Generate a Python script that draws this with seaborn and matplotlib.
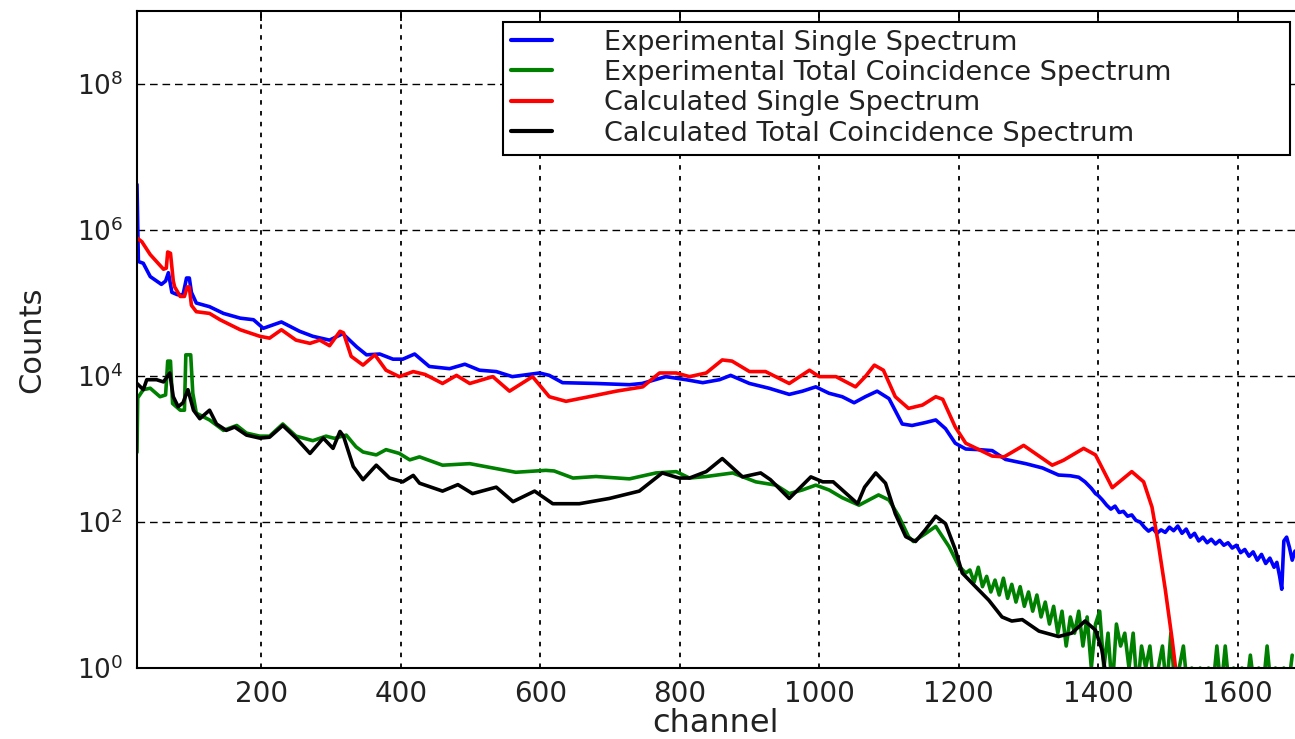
import matplotlib
matplotlib.use("Agg")
import numpy as np
import pandas as pd
import matplotlib.pyplot as plt
import seaborn as sns
from matplotlib.ticker import FixedLocator, LogFormatterMathtext, NullLocator

# ---------------- data ----------------
exp_single_ch = [22, 24, 31, 41, 57, 63, 67, 72, 80, 88, 93, 97, 100, 107, 126, 146, 170, 189,
                 203, 229, 255, 274, 298, 317, 337, 351, 370, 389, 403, 420, 441, 470, 492, 513,
                 537, 560, 599, 613, 632, 680, 728, 746, 780, 809, 833, 857, 873, 900, 928, 957,
                 976, 995, 1014, 1033, 1050, 1066, 1083, 1100, 1119, 1133, 1152, 1167, 1181,
                 1195, 1210, 1229, 1248, 1267, 1296, 1320, 1343, 1360, 1372, 1381, 1390, 1396,
                 1400, 1406, 1412, 1418, 1424, 1430, 1436, 1442, 1448, 1454, 1460, 1466, 1472,
                 1478, 1484, 1490, 1496, 1502, 1508, 1514, 1520, 1526, 1532, 1538, 1544, 1550,
                 1556, 1562, 1568, 1574, 1580, 1586, 1592, 1598, 1604, 1610, 1616, 1622, 1628,
                 1634, 1640, 1646, 1652, 1656, 1660, 1663, 1666, 1670, 1674, 1678, 1682]
exp_single = [4.2e6, 3.7e5, 3.5e5, 2.3e5, 1.8e5, 2.0e5, 2.6e5, 1.4e5, 1.3e5, 1.3e5, 2.2e5, 2.2e5,
              1.4e5, 1.0e5, 8.9e4, 7.2e4, 6.2e4, 5.9e4, 4.5e4, 5.5e4, 4.1e4, 3.5e4, 3.1e4, 3.8e4,
              2.5e4, 1.95e4, 2.0e4, 1.7e4, 1.7e4, 2.0e4, 1.35e4, 1.26e4, 1.45e4, 1.2e4, 1.15e4,
              9.8e3, 1.1e4, 1.02e4, 8.1e3, 7.9e3, 7.6e3, 7.9e3, 9.8e3, 8.9e3, 8.1e3, 8.9e3,
              1.02e4, 7.9e3, 6.8e3, 5.6e3, 6.2e3, 7.1e3, 5.8e3, 5.2e3, 4.3e3, 5.2e3, 6.2e3,
              4.9e3, 2.2e3, 2.1e3, 2.3e3, 2.5e3, 1.9e3, 1.2e3, 1.0e3, 980, 950, 720, 630, 550,
              440, 430, 410, 355, 290, 245,
              230, 200, 170, 150, 165, 135, 140, 120, 125, 105, 100, 85, 75, 82, 70, 78, 72, 85,
              76, 88, 70, 80, 62, 70, 55, 62, 52, 58, 50, 56, 48, 52, 44, 48, 38, 42, 34, 39, 30,
              36, 27, 32, 24, 28, 18, 12, 55, 62, 45, 30, 40]

exp_tc_ch = [22, 23, 31, 41, 55, 63, 66, 70, 73, 84, 90, 92, 99, 102, 107, 126, 146, 165, 179,
             198, 212, 231, 250, 274, 293, 305, 322, 336, 346, 365, 379, 398, 413, 427, 460, 499,
             532, 565, 608, 620, 647, 680, 728, 766, 795, 814, 838, 876, 909, 938, 957, 976, 995,
             1014, 1033, 1057, 1085, 1100, 1114, 1128, 1135, 1152, 1167, 1186, 1200, 1210,
             1216, 1222, 1228, 1234, 1240, 1246, 1252, 1258, 1264, 1270, 1276, 1282, 1288,
             1294, 1300, 1306, 1312, 1318, 1324, 1330, 1336, 1342, 1348, 1354, 1360, 1366,
             1372, 1378, 1384, 1390, 1396, 1402, 1408, 1414, 1420, 1426, 1432, 1438, 1444,
             1450, 1456, 1462, 1468, 1474, 1480, 1486, 1492, 1498, 1504, 1510, 1516, 1522,
             1528, 1534, 1540, 1546, 1552, 1558, 1564, 1570, 1576, 1582, 1588, 1594, 1600,
             1606, 1612, 1618, 1624, 1630, 1636, 1642, 1648, 1654, 1660, 1666, 1672, 1678]
exp_tc = [900, 5000, 6500, 6800, 5200, 5500, 1.6e4, 1.6e4, 4200, 3400, 3400, 1.95e4, 1.95e4,
          5800, 3100, 2500, 1800, 2100, 1650, 1500, 1500, 2200, 1500, 1300, 1500, 1400, 1550,
          1070, 910, 830, 980, 870, 710, 780, 600, 630, 550, 480, 510, 500, 400, 420, 390, 470,
          490, 400, 420, 470, 355, 320, 245, 275, 320, 275, 215, 170, 235, 200, 120, 63, 54, 69,
          87, 46, 25, 20,
          22, 15, 24, 13, 18, 11, 16, 10, 17, 9, 14, 8, 13, 7, 11, 6, 10, 5, 8, 4, 7, 3, 6, 2, 5,
          3, 6, 2, 5, 1, 4, 6, 1, 3, 0.5, 4, 2, 3, 1, 3, 0.5, 2, 1, 2, 0.5, 1, 2, 0.5, 3, 0.5, 1,
          2, 0.5, 1, 0.5, 1, 0.5, 1, 0.5, 2, 0.5, 2, 0.5, 1, 0.5, 1, 0.5, 1.5, 0.5, 1, 0.5, 2,
          0.5, 1, 0.5, 1, 0.5, 1.5]

calc_single_ch = [22, 29, 41, 60, 64, 66, 70, 74, 76, 84, 90, 94, 97, 100, 107, 126, 141, 170,
                  198, 212, 229, 250, 270, 284, 298, 313, 318, 329, 346, 363, 379, 398, 418, 435,
                  460, 480, 499, 532, 556, 589, 613, 637, 670, 709, 747, 771, 795, 814, 838, 861,
                  875, 900, 923, 957, 986, 1000, 1024, 1052, 1066, 1079, 1092, 1109, 1128, 1148,
                  1167, 1177, 1195, 1210, 1229, 1248, 1265, 1293, 1334, 1350, 1379, 1396, 1420,
                  1448, 1465, 1477, 1486, 1496, 1506, 1512, 1520]
calc_single = [7.8e5, 6.9e5, 4.6e5, 2.9e5, 3.0e5, 5.0e5, 4.8e5, 2.0e5, 1.66e5, 1.23e5, 1.23e5,
               1.66e5, 1.66e5, 9.3e4, 7.6e4, 7.2e4, 5.9e4, 4.3e4, 3.5e4, 3.3e4, 4.3e4, 3.1e4,
               2.8e4, 3.1e4, 2.6e4, 4.1e4, 3.9e4, 1.86e4, 1.41e4, 1.95e4, 1.2e4, 9.8e3, 1.15e4,
               1.05e4, 7.9e3, 1.02e4, 7.9e3, 9.8e3, 6.2e3, 9.8e3, 5.2e3, 4.5e3, 5.2e3, 6.2e3,
               7.1e3, 1.1e4, 1.1e4, 9.8e3, 1.1e4, 1.66e4, 1.6e4, 1.15e4, 1.15e4, 7.9e3, 1.2e4,
               9.8e3, 9.8e3, 7.1e3, 9.8e3, 1.41e4, 1.2e4, 5.2e3, 3.6e3, 4.0e3, 5.2e3, 4.8e3,
               2.0e3, 1.2e3, 980, 800, 780, 1120, 600, 700, 1020, 830, 295, 490, 355, 160, 51, 12,
               2.4, 0.8, 0.1]

calc_tc_ch = [22, 31, 36, 50, 60, 69, 74, 81, 88, 95, 103, 112, 126, 136, 150, 162, 179, 198, 212,
              231, 250, 270, 289, 303, 313, 318, 332, 346, 365, 384, 403, 418, 427, 460, 482, 503,
              537, 561, 592, 618, 656, 699, 742, 775, 799, 814, 838, 861, 890, 916, 930, 957, 988,
              1005, 1020, 1055, 1065, 1081, 1095, 1109, 1124, 1138, 1152, 1167, 1181, 1195, 1205,
              1224, 1243, 1262, 1276, 1291, 1315, 1343, 1362, 1381, 1396, 1405, 1410, 1414]
calc_tc = [7.9e3, 6.5e3, 8.9e3, 8.9e3, 8.3e3, 1.1e4, 5.2e3, 3.8e3, 4.3e3, 6.5e3, 3.4e3, 2.6e3,
           3.4e3, 2.2e3, 1.8e3, 2.0e3, 1.55e3, 1.41e3, 1.45e3, 2.1e3, 1.41e3, 870, 1.41e3, 1.02e3,
           1.74e3, 1.5e3, 575, 380, 600, 400, 355, 435, 340, 265, 325, 245, 300, 190, 265, 178,
           178, 210, 265, 470, 400, 400, 490, 740, 415, 470, 380, 210, 415, 355, 355, 178, 300,
           470, 340, 130, 63, 54, 78, 120, 95, 42, 20, 13, 8.5, 5.0, 4.4, 4.6, 3.2, 2.7, 3.0, 4.4,
           3.3, 1.8, 0.9, 0.3]

series_labels = ["Experimental Single Spectrum",
                 "Experimental Total Coincidence Spectrum",
                 "Calculated Single Spectrum",
                 "Calculated Total Coincidence Spectrum"]
series_colors = ["#0000ff", "#008000", "#ff0000", "#000000"]
y_ticks = [1, 1e2, 1e4, 1e6, 1e8]
x_ticks = [200, 400, 600, 800, 1000, 1200, 1400, 1600]

# ---------------- plotting ----------------
sns.set_style("white")
plt.rcParams['font.family'] = ['DejaVu Sans']
plt.rcParams['mathtext.fontset'] = 'dejavusans'

fig = plt.figure(figsize=(12.95, 7.39), dpi=100)
ax = fig.add_axes([137 / 1295, 1 - 668 / 739, 1 - 137 / 1295, 657 / 739])

data = [(exp_single_ch, exp_single), (exp_tc_ch, exp_tc),
        (calc_single_ch, calc_single), (calc_tc_ch, calc_tc)]
for (ch, cnt), lab, col in zip(data, series_labels, series_colors):
    df = pd.DataFrame({"channel": ch, "counts": cnt})
    sns.lineplot(data=df, x="channel", y="counts", ax=ax, color=col, lw=2.6,
                 estimator=None, sort=False, label=lab)

ax.set_yscale('log')
ax.set_ylim(1, 1e9)
ax.set_xlim(22, 1682)
ax.yaxis.set_major_locator(FixedLocator(y_ticks))
ax.yaxis.set_major_formatter(LogFormatterMathtext())
ax.yaxis.set_minor_locator(NullLocator())
ax.xaxis.set_major_locator(FixedLocator(x_ticks))

ax.xaxis.grid(True, color='black', linestyle=(0, (2.5, 3.5)), linewidth=1.3)
ax.yaxis.grid(True, color='black', linestyle=(0, (5.5, 3.5)), linewidth=1.0)

for side in ['left', 'bottom', 'top']:
    ax.spines[side].set_color('black')
    ax.spines[side].set_linewidth(1.5)
ax.spines['right'].set_visible(False)

ax.tick_params(axis='both', direction='in', length=7, width=1.3, top=True, right=False,
               colors='black', labelcolor='#222222')
ax.tick_params(axis='x', pad=9, labelsize=20)
ax.tick_params(axis='y', pad=10, labelsize=19)

ax.set_xlabel("channel", fontsize=23, color='#222222', labelpad=0)
ax.set_ylabel("Counts", fontsize=22, color='#222222', labelpad=22)

leg = ax.legend(loc='upper left', bbox_to_anchor=(0.316, 0.5, 0.680, 0.484), mode='expand',
                borderaxespad=0, frameon=True, fancybox=False, framealpha=1,
                edgecolor='black', fontsize=19.5, handlelength=1.5, handletextpad=1.95,
                labelspacing=0.16, borderpad=0.3)
leg.get_frame().set_linewidth(1.5)
for t in leg.get_texts():
    t.set_color('#222222')
for h in leg.get_lines():
    h.set_linewidth(3)

fig.savefig("out.png", dpi=100)
